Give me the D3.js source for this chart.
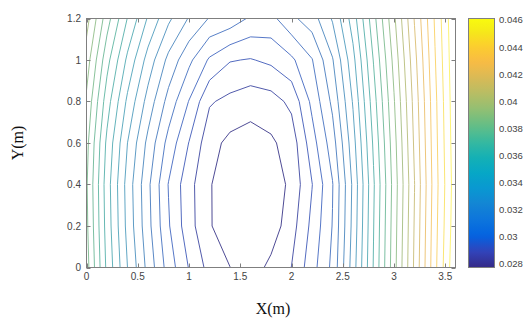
<!DOCTYPE html>
<html><head><meta charset="utf-8">
<script src="https://cdn.jsdelivr.net/npm/d3@7"></script>
<style>body{margin:0;background:#fff}svg{display:block}</style>
</head><body>
<svg id="c" width="529" height="320"></svg>
<script>
// grid coordinates (m)
const xGrid = [0,0.2,0.4,0.6,0.8,1.0,1.2,1.4,1.6,1.8,2.0,2.2,2.4,2.6,2.8,3.0,3.2,3.4,3.6];
const yGrid = [0,0.2,0.4,0.6,0.8,1.0,1.2];
// field values, one array per grid row (y = 0 ... 1.2)
const zY00 = [0.03862,0.03603,0.03407,0.032425,0.03092,0.029786,0.028869,0.028421,0.02805,0.028589,0.029128,0.030248,0.03141,0.03372,0.03624,0.03876,0.04128,0.0438,0.04604];
const zY02 = [0.03848,0.03589,0.03386,0.03218,0.030605,0.02938,0.028505,0.027735,0.027735,0.028015,0.02882,0.03001,0.03127,0.03358,0.03617,0.03869,0.04121,0.04373,0.0459];
const zY04 = [0.03841,0.03582,0.03379,0.03211,0.0305,0.029345,0.028498,0.027714,0.0277,0.027945,0.028596,0.0298,0.0312,0.03351,0.0361,0.03862,0.04114,0.04366,0.04583];
const zY06 = [0.03855,0.03603,0.03407,0.03246,0.03099,0.0298,0.0286625,0.028225,0.028092,0.028295,0.028715,0.03022,0.03162,0.03379,0.03631,0.03876,0.04128,0.04373,0.0459];
const zY08 = [0.0389,0.03652,0.03463,0.03309,0.03169,0.0305,0.029191,0.028925,0.028708,0.02882,0.029289,0.03071,0.03211,0.03414,0.03659,0.03897,0.04142,0.0438,0.04597];
const zY10 = [0.03939,0.03715,0.03533,0.03379,0.03246,0.03141,0.03043,0.02987,0.029779,0.029975,0.030395,0.0312,0.0326,0.03456,0.03694,0.03925,0.04163,0.04394,0.04604];
const zY12 = [0.04002,0.03792,0.03617,0.0347,0.03351,0.0326,0.0319,0.031669,0.03113,0.031025,0.031788,0.03232,0.03344,0.03512,0.03736,0.0396,0.04191,0.04408,0.04611];
const zRows = [zY00,zY02,zY04,zY06,zY08,zY10,zY12];

const xTicks = [0,0.5,1,1.5,2,2.5,3,3.5];
const yTicks = [0,0.2,0.4,0.6,0.8,1,1.2];
const cbTicks = [0.028,0.03,0.032,0.034,0.036,0.038,0.04,0.042,0.044,0.046];
const levelCount = 25;
// parula colormap samples (entry index out of 0..63)
const parulaIdx = [0,4,8,12,16,20,24,28,32,36,40,44,48,52,56,60,63];
const parulaCol = ["#352A87","#3243BA","#0363E1","#0D75DC","#1485D4","#0998D1","#06A7C6","#15B1B4","#38B99E","#65BE86","#92BF73","#B7BD64","#D9BA56","#F8BB44","#FCCE2E","#F5EB18","#F9FB0E"];

const svg = d3.select("#c");
const L = 86.5, R = 455.5, T = 18.5, B = 267.5;
const x = d3.scaleLinear().domain([0, 3.6]).range([L, R]);
const y = d3.scaleLinear().domain([0, 1.2]).range([B, T]);

const nx = xGrid.length, ny = yGrid.length;
const values = zRows.flat();
const zmin = d3.min(values), zmax = d3.max(values);
const thresholds = d3.range(1, levelCount + 1).map(i => zmin + i * (zmax - zmin) / (levelCount + 1));
const color = d3.scaleLinear()
  .domain(parulaIdx.map(i => zmin + (i / 63) * (zmax - zmin)))
  .range(parulaCol).interpolate(d3.interpolateRgb).clamp(true);
// thin lines look softer (less saturated) than the colour bar
const lineColor = v => { const c = d3.hcl(color(v)); c.c *= 0.72; c.l = Math.min(100, c.l + 2); return c.formatHex(); };

// contour-grid coordinate -> data coordinate
const gx = d3.scaleLinear().domain([0.5, nx - 0.5]).range([xGrid[0], xGrid[nx - 1]]);
const gy = d3.scaleLinear().domain([0.5, ny - 0.5]).range([yGrid[0], yGrid[ny - 1]]);
const proj = d3.geoTransform({ point(px, py) { this.stream.point(x(gx(px)), y(gy(py))); } });
const path = d3.geoPath(proj);
const contours = d3.contours().size([nx, ny]).thresholds(thresholds)(values);

svg.append("clipPath").attr("id", "clip").append("rect")
  .attr("x", L).attr("y", T).attr("width", R - L).attr("height", B - T);

svg.append("g").attr("clip-path", "url(#clip)")
  .selectAll("path").data(contours).join("path")
  .attr("d", path)
  .attr("fill", "none")
  .attr("stroke", d => lineColor(d.value))
  .attr("stroke-width", 0.95)
  .attr("stroke-linejoin", "round");

// axes box
const axCol = "#7f7f7f", txtCol = "#444";
svg.append("rect").attr("x", L).attr("y", T).attr("width", R - L).attr("height", B - T)
  .attr("fill", "none").attr("stroke", axCol).attr("stroke-width", 1);

const tk = 4;
const gT = svg.append("g").attr("stroke", axCol).attr("stroke-width", 1);
xTicks.forEach(v => {
  const px = Math.round(x(v)) + 0.5;
  gT.append("line").attr("x1", px).attr("x2", px).attr("y1", B).attr("y2", B - tk);
  gT.append("line").attr("x1", px).attr("x2", px).attr("y1", T).attr("y2", T + tk);
});
yTicks.forEach(v => {
  const py = Math.round(y(v)) + 0.5;
  gT.append("line").attr("x1", L).attr("x2", L + tk).attr("y1", py).attr("y2", py);
  gT.append("line").attr("x1", R).attr("x2", R - tk).attr("y1", py).attr("y2", py);
});

const font = "'Liberation Sans', Arial, sans-serif";
svg.append("g").selectAll("text").data(xTicks).join("text")
  .attr("x", d => x(d)).attr("y", 280).attr("text-anchor", "middle")
  .attr("font-family", font).attr("font-size", 10).attr("fill", txtCol)
  .text(d => d3.format("~g")(d));
svg.append("g").selectAll("text").data(yTicks).join("text")
  .attr("x", 81).attr("y", d => y(d) + 3.5).attr("text-anchor", "end")
  .attr("font-family", font).attr("font-size", 10).attr("fill", txtCol)
  .text(d => d3.format("~g")(d));

// axis titles
svg.append("text").attr("x", 273).attr("y", 314).attr("text-anchor", "middle")
  .attr("font-family", "'Liberation Serif', 'Times New Roman', serif").attr("font-size", 16)
  .attr("fill", "#111").text("X(m)");
svg.append("text").attr("transform", "translate(23,143) rotate(-90)").attr("text-anchor", "middle")
  .attr("font-family", "'Liberation Serif', 'Times New Roman', serif").attr("font-size", 16)
  .attr("fill", "#111").text("Y(m)");

// colorbar
const cbL = 468.5, cbR = 494.5;
const cy = d3.scaleLinear().domain([zmin, zmax]).range([B, T]);
const grad = svg.append("defs").append("linearGradient").attr("id", "cb")
  .attr("x1", 0).attr("y1", 1).attr("x2", 0).attr("y2", 0);
d3.range(0, 1.0001, 0.02).forEach(t => {
  grad.append("stop").attr("offset", t).attr("stop-color", color(zmin + t * (zmax - zmin)));
});
svg.append("rect").attr("x", cbL).attr("y", T).attr("width", cbR - cbL).attr("height", B - T)
  .attr("fill", "url(#cb)").attr("stroke", axCol).attr("stroke-width", 1);
cbTicks.forEach(v => {
  const py = Math.round(cy(v)) + 0.5;
  gT.append("line").attr("x1", cbR).attr("x2", cbR - 3).attr("y1", py).attr("y2", py);
});
svg.append("g").selectAll("text").data(cbTicks).join("text")
  .attr("x", 499).attr("y", d => cy(d) + 3.5)
  .attr("font-family", font).attr("font-size", 9.5).attr("fill", txtCol)
  .text(d => d3.format("~g")(d));
</script>
</body></html>
